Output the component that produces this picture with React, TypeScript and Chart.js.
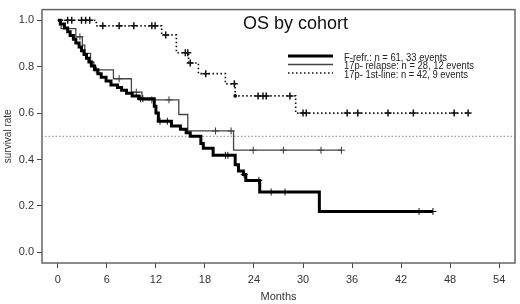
import { useEffect, useRef } from "react";
import { Chart, registerables } from "chart.js";

Chart.register(...registerables);

// ---- data ----
const xTicks = [0, 6, 12, 18, 24, 30, 36, 42, 48, 54];
const yTicks = [0, 0.2, 0.4, 0.6, 0.8, 1.0];

const titleText = "OS by cohort";
const xTitle = "Months";
const yTitle = "survival rate";
const seriesNames = [
  "F-refr.: n = 61, 33 events",
  "17p- relapse: n = 28, 12 events",
  "17p- 1st-line: n = 42, 9 events",
];
const referenceLevel = 0.5;

// F-refr. (thick black)
const frefrTimes = [0.3, 0.8, 1.2, 1.5, 1.9, 2.2, 2.6, 2.9, 3.2, 3.5, 3.8, 4.1, 4.5, 4.9, 5.3, 5.9, 6.5, 7.3, 7.8, 8.4, 9.1, 9.9, 11.8, 12.0, 12.3, 13.9, 15.0, 15.7, 16.2, 17.5, 17.8, 19.0, 21.7, 22.1, 22.7, 23.0, 24.7, 32.0];
const frefrSurv = [0.984, 0.967, 0.951, 0.934, 0.918, 0.902, 0.885, 0.869, 0.852, 0.836, 0.82, 0.803, 0.787, 0.77, 0.754, 0.738, 0.721, 0.71, 0.698, 0.686, 0.674, 0.662, 0.63, 0.6, 0.565, 0.544, 0.53, 0.515, 0.5, 0.469, 0.448, 0.418, 0.377, 0.351, 0.335, 0.31, 0.26, 0.176];
const frefrEnd = 45.9;
const frefrCensor = [10.1, 10.4, 12.5, 13.4, 20.5, 20.8, 22.8, 24.6, 26.1, 27.8, 44.2, 45.9];

// 17p- relapse (thin grey)
const relapseTimes = [0.4, 2.2, 3.0, 3.3, 4.0, 4.4, 6.8, 9.0, 10.3, 14.8, 15.9, 21.5];
const relapseSurv = [0.964, 0.929, 0.893, 0.857, 0.821, 0.786, 0.748, 0.69, 0.657, 0.594, 0.523, 0.44];
const relapseEnd = 34.7;
const relapseCensor = [2.7, 4.7, 7.5, 9.6, 11.5, 13.6, 19.3, 21.2, 23.9, 27.6, 32.2, 34.7];

// 17p- 1st-line (dotted)
const firstTimes = [4.7, 12.7, 14.5, 16.0, 17.2, 20.5, 21.7, 29.1];
const firstSurv = [0.976, 0.937, 0.86, 0.816, 0.77, 0.726, 0.674, 0.6];
const firstEnd = 50.2;
const firstCensor = [1.2, 1.7, 2.9, 3.4, 3.9, 5.5, 7.5, 9.3, 11.5, 11.9, 13.2, 15.6, 15.9, 16.2, 18.1, 21.6, 24.5, 25.1, 25.5, 28.4, 30.0, 30.4, 35.4, 36.7, 40.4, 43.5, 48.5, 50.2];
const firstDot = [21.7];

// ---- helpers ----
type P = { x: number; y: number };
function stepPoints(times: number[], surv: number[], end: number): P[] {
  const pts: P[] = [{ x: 0, y: 1 }];
  times.forEach((t, i) => pts.push({ x: t, y: surv[i] }));
  pts.push({ x: end, y: surv[surv.length - 1] });
  return pts;
}
function levelAt(times: number[], surv: number[], t: number): number {
  let v = 1;
  for (let i = 0; i < times.length; i++) if (times[i] <= t) v = surv[i];
  return v;
}
function censorPoints(times: number[], surv: number[], cens: number[]): P[] {
  return cens.map((t) => ({ x: t, y: levelAt(times, surv, t) }));
}

const FONT = '"Liberation Sans", Arial, sans-serif';

const overlayPlugin = {
  id: "overlay",
  afterDraw(chart: any) {
    const { ctx, chartArea: a } = chart;
    ctx.save();
    ctx.strokeStyle = "#666";
    ctx.lineWidth = 1.5;
    ctx.setLineDash([]);
    ctx.strokeRect(a.left, a.top, a.right - a.left, a.bottom - a.top);

    ctx.fillStyle = "#111";
    ctx.font = `18px ${FONT}`;
    ctx.textAlign = "left";
    ctx.textBaseline = "middle";
    ctx.fillText(titleText, 243, 24);

    const rowsY = [56, 64.5, 73];
    const widths = [103, 130, 124];
    const styles = [
      { w: 3, c: "#000", d: [] as number[] },
      { w: 1.5, c: "#444", d: [] as number[] },
      { w: 1.5, c: "#111", d: [1.5, 2.5] },
    ];
    seriesNames.forEach((name, i) => {
      const s = styles[i];
      ctx.beginPath();
      ctx.lineWidth = s.w;
      ctx.strokeStyle = s.c;
      ctx.setLineDash(s.d);
      ctx.moveTo(288, rowsY[i]);
      ctx.lineTo(333, rowsY[i]);
      ctx.stroke();
      ctx.setLineDash([]);
      ctx.fillStyle = "#222";
      ctx.font = `10px ${FONT}`;
      ctx.fillText(name, 344, rowsY[i] + 2, widths[i]);
    });
    ctx.restore();
  },
};

export default function App() {
  const ref = useRef<HTMLCanvasElement | null>(null);
  useEffect(() => {
    document.body.style.margin = "0";
    if (!ref.current) return;
    const lineBase = { pointRadius: 0, stepped: true as const, fill: false, tension: 0 };
    const censBase = { showLine: false, pointStyle: "cross" as const, pointRadius: 3.5, pointHoverRadius: 3.5 };
    const chart = new Chart(ref.current, {
      type: "line",
      data: {
        datasets: [
          {
            ...lineBase,
            data: stepPoints(frefrTimes, frefrSurv, frefrEnd),
            borderColor: "#000",
            borderWidth: 3,
          },
          {
            ...censBase,
            data: censorPoints(frefrTimes, frefrSurv, frefrCensor),
            borderColor: "#111",
            pointBorderColor: "#111",
            pointBorderWidth: 1,
          },
          {
            ...lineBase,
            data: stepPoints(relapseTimes, relapseSurv, relapseEnd),
            borderColor: "#444",
            borderWidth: 1.3,
          },
          {
            ...censBase,
            data: censorPoints(relapseTimes, relapseSurv, relapseCensor),
            borderColor: "#333",
            pointBorderColor: "#333",
            pointBorderWidth: 1,
          },
          {
            ...lineBase,
            data: stepPoints(firstTimes, firstSurv, firstEnd),
            borderColor: "#111",
            borderWidth: 1.6,
            borderDash: [1.5, 2.5],
          },
          {
            ...censBase,
            data: censorPoints(firstTimes, firstSurv, firstCensor),
            borderColor: "#111",
            pointBorderColor: "#111",
            pointBorderWidth: 1.5,
          },
          {
            showLine: false,
            data: censorPoints(firstTimes, firstSurv, firstDot),
            pointStyle: "circle",
            pointRadius: 1.8,
            pointBackgroundColor: "#000",
            pointBorderColor: "#000",
            pointBorderWidth: 0,
          },
          {
            data: [
              { x: -2, y: referenceLevel },
              { x: 56, y: referenceLevel },
            ],
            borderColor: "#888",
            borderWidth: 1,
            borderDash: [1.5, 2],
            pointRadius: 0,
          },
        ],
      },
      options: {
        animation: false,
        responsive: false,
        devicePixelRatio: 1,
        layout: { padding: { top: 2, right: 1, left: 0, bottom: 0 } },
        plugins: { legend: { display: false }, tooltip: { enabled: false } },
        events: [],
        scales: {
          x: {
            type: "linear",
            min: -1.94,
            max: 55.94,
            afterBuildTicks: (s: any) => {
              s.ticks = xTicks.map((v) => ({ value: v }));
            },
            afterFit: (s: any) => {
              s.height = 41;
            },
            ticks: {
              autoSkip: false,
              maxRotation: 0,
              padding: 5,
              color: "#333",
              font: { family: FONT, size: 11 },
              callback: (v: any) => String(v),
            },
            grid: { drawOnChartArea: false, drawTicks: true, tickLength: 5, color: "#444", lineWidth: 1 },
            border: { display: false },
            title: {
              display: true,
              text: xTitle,
              color: "#333",
              font: { family: FONT, size: 11 },
              padding: { top: 0, bottom: 0 },
            },
          },
          y: {
            type: "linear",
            min: -0.046,
            max: 1.046,
            afterBuildTicks: (s: any) => {
              s.ticks = yTicks.map((v) => ({ value: v }));
            },
            afterFit: (s: any) => {
              s.width = 42;
            },
            ticks: {
              autoSkip: false,
              padding: 3,
              color: "#333",
              font: { family: FONT, size: 11 },
              callback: (v: any) => Number(v).toFixed(1),
            },
            grid: { drawOnChartArea: false, drawTicks: true, tickLength: 5, color: "#444", lineWidth: 1 },
            border: { display: false },
            title: {
              display: true,
              text: yTitle,
              color: "#333",
              font: { family: FONT, size: 10 },
              padding: { top: 2, bottom: 0 },
            },
          },
        },
      },
      plugins: [overlayPlugin],
    });
    return () => chart.destroy();
  }, []);
  return <canvas ref={ref} width={520} height={304} style={{ display: "block" }} />;
}
